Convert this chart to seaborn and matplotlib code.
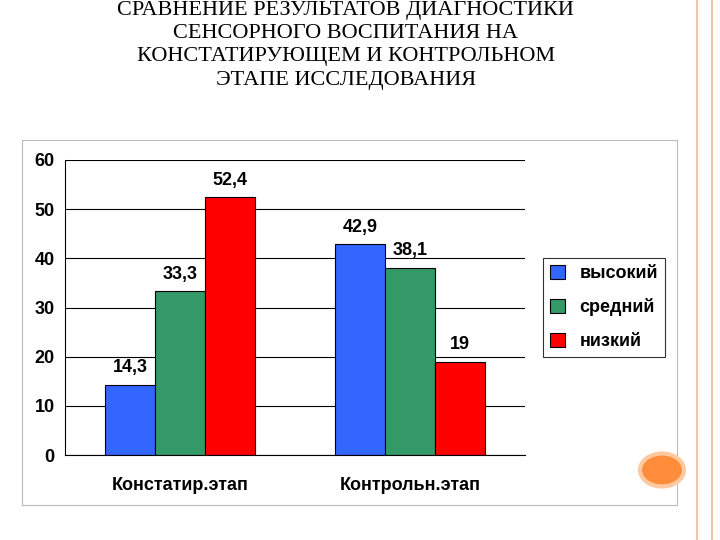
import pandas as pd
import matplotlib.pyplot as plt
import seaborn as sns
from matplotlib.patches import Rectangle, Circle

stages = ['Констатир.этап', 'Контрольн.этап']
levels = ['высокий', 'средний', 'низкий']
high = [14.3, 42.9]
mid = [33.3, 38.1]
low = [52.4, 19]
colors = ['#3366FF', '#339966', '#FF0000']

df = pd.DataFrame({
    'stage': stages * 3,
    'level': [l for l in levels for _ in stages],
    'value': high + mid + low,
})

sns.set_style('white')
plt.rcParams['font.family'] = ['Liberation Sans', 'DejaVu Sans']
plt.rcParams['text.color'] = 'black'
plt.rcParams['xtick.color'] = 'black'
plt.rcParams['ytick.color'] = 'black'

fig = plt.figure(figsize=(7.2, 5.4), dpi=100)
fig.patches.append(Rectangle((22 / 720, 35 / 540), 655 / 720, 365 / 540, transform=fig.transFigure,
                             fill=False, edgecolor='#bbbbbb', lw=0.8))
for x in (697, 712):
    fig.add_artist(plt.Line2D([x / 720, x / 720], [0, 1], color='#f4c4a8', lw=1.5))
fig.patches.append(Circle((662 / 720, 70 / 540), 22 / 720, transform=fig.transFigure,
                          facecolor='#ff8c3a', edgecolor='#ffc9a0', lw=3))

fig.text(0.48, 0.998, 'СРАВНЕНИЕ РЕЗУЛЬТАТОВ ДИАГНОСТИКИ\nСЕНСОРНОГО ВОСПИТАНИЯ НА\n'
         'КОНСТАТИРУЮЩЕМ И КОНТРОЛЬНОМ\nЭТАПЕ ИССЛЕДОВАНИЯ', ha='center', va='top',
         family='Liberation Serif', fontsize=16, linespacing=1.3)

ax = fig.add_axes([65 / 720, 85 / 540, 460 / 720, 295 / 540])
sns.barplot(data=df, x='stage', y='value', hue='level', palette=colors, width=0.65,
            saturation=1, edgecolor='black', linewidth=0.8, ax=ax, legend=True)
for c in ax.containers:
    ax.bar_label(c, labels=[f'{v:g}'.replace('.', ',') for v in c.datavalues],
                 padding=6, fontsize=13, fontweight='bold')
ax.set_ylim(0, 60)
ax.set_yticks(range(0, 61, 10))
ax.yaxis.grid(True, color='black', lw=0.8)
ax.set_axisbelow(True)
ax.set_xlabel('')
ax.set_ylabel('')
for s in ax.spines.values():
    s.set_color('black')
ax.spines['right'].set_visible(False)
ax.spines['top'].set_visible(False)
ax.tick_params(axis='both', labelsize=13, length=4, direction='out')
for t in ax.get_xticklabels() + ax.get_yticklabels():
    t.set_fontweight('bold')
ax.tick_params(axis='x', pad=12)
leg = ax.legend(loc='center left', bbox_to_anchor=(1.02, 0.5), frameon=True, fancybox=False,
                edgecolor='black', prop={'size': 13, 'weight': 'bold'}, handlelength=0.8,
                handleheight=0.8, labelspacing=0.9)
leg.get_frame().set_linewidth(0.8)

fig.savefig('out.png', dpi=100)
